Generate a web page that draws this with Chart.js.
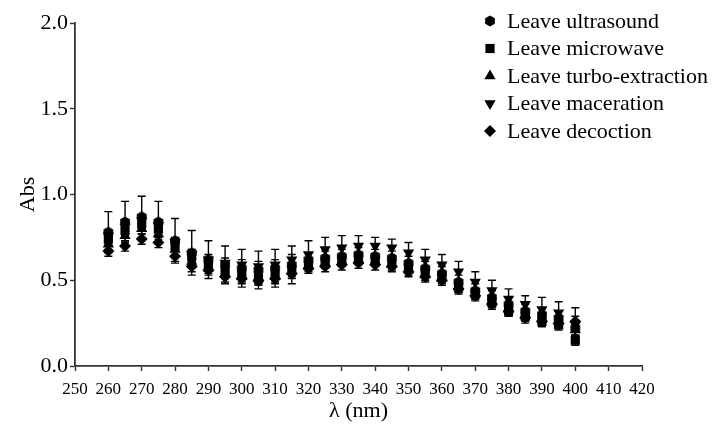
<!DOCTYPE html>
<html>
<head>
<meta charset="utf-8">
<style>
  html, body { margin: 0; padding: 0; background: #fff; }
  #wrap { width: 714px; height: 424px; }
</style>
<script src="https://cdn.jsdelivr.net/npm/chart.js"></script>
</head>
<body>
<div id="wrap"><canvas id="cvs" width="714" height="424"></canvas></div>
<script>
'use strict';

// wavelength (nm)
const wavelengths = [260, 265, 270, 275, 280, 285, 290, 295, 300, 305, 310, 315, 320, 325, 330,
    335, 340, 345, 350, 355, 360, 365, 370, 375, 380, 385, 390, 395, 400];

const seriesNames = ['Leave ultrasound', 'Leave microwave', 'Leave turbo-extraction',
    'Leave maceration', 'Leave decoction'];

// absorbance values
const ultrasound = [0.78, 0.84, 0.87, 0.84, 0.73, 0.66, 0.62, 0.59, 0.57, 0.56, 0.57, 0.59, 0.62, 0.63, 0.64,
    0.65, 0.64, 0.63, 0.60, 0.57, 0.54, 0.49, 0.44, 0.40, 0.36, 0.32, 0.30, 0.28, 0.22];
const microwave = [0.74, 0.79, 0.83, 0.80, 0.70, 0.64, 0.59, 0.55, 0.53, 0.51, 0.53, 0.56, 0.59, 0.61, 0.62,
    0.63, 0.62, 0.60, 0.57, 0.55, 0.52, 0.46, 0.42, 0.37, 0.32, 0.29, 0.26, 0.24, 0.15];
const turbo = [0.71, 0.76, 0.80, 0.77, 0.68, 0.61, 0.57, 0.54, 0.52, 0.51, 0.52, 0.55, 0.58, 0.60, 0.61,
    0.62, 0.61, 0.59, 0.56, 0.53, 0.51, 0.46, 0.42, 0.38, 0.33, 0.30, 0.28, 0.26, 0.21];
const maceration = [0.76, 0.81, 0.85, 0.82, 0.72, 0.65, 0.62, 0.60, 0.59, 0.58, 0.59, 0.62, 0.65, 0.68, 0.69,
    0.70, 0.70, 0.69, 0.66, 0.62, 0.59, 0.55, 0.49, 0.44, 0.39, 0.36, 0.33, 0.31, 0.24];
const decoction = [0.67, 0.70, 0.74, 0.72, 0.64, 0.58, 0.56, 0.52, 0.51, 0.50, 0.51, 0.54, 0.57, 0.58, 0.59,
    0.60, 0.59, 0.58, 0.55, 0.52, 0.50, 0.45, 0.41, 0.36, 0.32, 0.28, 0.26, 0.25, 0.26];

// standard deviations (error bars)
const ultrasoundErr = [0.12, 0.12, 0.12, 0.12, 0.13, 0.13, 0.11, 0.11, 0.11, 0.11, 0.11, 0.11, 0.04, 0.04, 0.04,
    0.04, 0.04, 0.04, 0.04, 0.04, 0.04, 0.04, 0.04, 0.04, 0.04, 0.04, 0.04, 0.04, 0.04];
const microwaveErr = [0.03, 0.03, 0.03, 0.03, 0.03, 0.03, 0.03, 0.03, 0.03, 0.03, 0.03, 0.03, 0.03, 0.03, 0.03,
    0.03, 0.03, 0.03, 0.03, 0.03, 0.03, 0.03, 0.03, 0.03, 0.03, 0.03, 0.03, 0.03, 0.03];
const turboErr = [0.03, 0.03, 0.03, 0.03, 0.03, 0.03, 0.03, 0.03, 0.03, 0.03, 0.03, 0.03, 0.03, 0.03, 0.03,
    0.03, 0.03, 0.03, 0.03, 0.03, 0.03, 0.03, 0.03, 0.03, 0.03, 0.03, 0.03, 0.03, 0.03];
const macerationErr = [0.03, 0.03, 0.03, 0.03, 0.03, 0.03, 0.03, 0.03, 0.03, 0.03, 0.03, 0.03, 0.08, 0.07, 0.07,
    0.06, 0.05, 0.05, 0.06, 0.06, 0.06, 0.06, 0.06, 0.06, 0.06, 0.05, 0.07, 0.065, 0.10];
const decoctionErr = [0.03, 0.03, 0.03, 0.03, 0.03, 0.03, 0.03, 0.03, 0.03, 0.03, 0.03, 0.03, 0.03, 0.03, 0.03,
    0.03, 0.03, 0.03, 0.03, 0.03, 0.03, 0.03, 0.03, 0.03, 0.03, 0.03, 0.03, 0.03, 0.03];

const yTicks = [0.0, 0.5, 1.0, 1.5, 2.0];

const SERIF = '"Liberation Serif", "Times New Roman", serif';
const INK = '#000';
const AXIS = '#333';

// hexagon marker for the ultrasound series
const hexMarker = (() => {
    const c = document.createElement('canvas');
    c.width = 12;
    c.height = 12;
    const g = c.getContext('2d');
    g.fillStyle = INK;
    g.beginPath();
    for (let k = 0; k < 6; k++) {
        const a = Math.PI / 6 + k * Math.PI / 3;
        const px = 6 + 5.6 * Math.cos(a);
        const py = 6 + 5.6 * Math.sin(a);
        if (k === 0) g.moveTo(px, py); else g.lineTo(px, py);
    }
    g.closePath();
    g.fill();
    return c;
})();

const values = [ultrasound, microwave, turbo, maceration, decoction];
const errors = [ultrasoundErr, microwaveErr, turboErr, macerationErr, decoctionErr];
const markers = [
    { pointStyle: hexMarker, radius: 5.5, rotation: 0 },
    { pointStyle: 'rect', radius: 6.5, rotation: 0 },
    { pointStyle: 'triangle', radius: 6.5, rotation: 0 },
    { pointStyle: 'triangle', radius: 6.5, rotation: 180 },
    { pointStyle: 'rectRot', radius: 6, rotation: 0 }
];

const datasets = values.map((vals, i) => ({
    label: seriesNames[i],
    data: wavelengths.map((w, j) => ({ x: w, y: vals[j] })),
    showLine: false,
    pointStyle: markers[i].pointStyle,
    pointRadius: markers[i].radius,
    pointRotation: markers[i].rotation,
    pointBackgroundColor: INK,
    pointBorderColor: INK,
    pointBorderWidth: 0,
    pointHoverRadius: markers[i].radius
}));

// vertical error bars with caps, placed through the chart scales
const errorBarPlugin = {
    id: 'errorBars',
    beforeDatasetsDraw(chart) {
        const { ctx, scales: { x, y } } = chart;
        ctx.save();
        ctx.strokeStyle = INK;
        ctx.lineWidth = 1.4;
        values.forEach((vals, i) => {
            vals.forEach((v, j) => {
                const e = errors[i][j];
                const px = x.getPixelForValue(wavelengths[j]);
                const top = y.getPixelForValue(v + e);
                const bot = y.getPixelForValue(v - e);
                ctx.beginPath();
                ctx.moveTo(px, top);
                ctx.lineTo(px, bot);
                ctx.moveTo(px - 4, top);
                ctx.lineTo(px + 4, top);
                ctx.moveTo(px - 4, bot);
                ctx.lineTo(px + 4, bot);
                ctx.stroke();
            });
        });
        ctx.restore();
    }
};

// legend drawn inside the plot, top right
const insideLegendPlugin = {
    id: 'insideLegend',
    afterDraw(chart) {
        const ctx = chart.ctx;
        ctx.save();
        ctx.font = '22px ' + SERIF;
        ctx.textBaseline = 'middle';
        ctx.textAlign = 'left';
        ctx.fillStyle = INK;
        seriesNames.forEach((name, i) => {
            const ly = 21 + i * 27.5;
            Chart.helpers.drawPoint(ctx, {
                pointStyle: markers[i].pointStyle,
                radius: markers[i].radius,
                rotation: markers[i].rotation,
                borderWidth: 0
            }, 490, ly);
            ctx.fillStyle = INK;
            ctx.fillText(name, 507, ly + 1);
        });
        ctx.restore();
    }
};

const config = {
    type: 'scatter',
    data: { datasets },
    options: {
        responsive: false,
        animation: false,
        devicePixelRatio: 1,
        layout: {
            padding: { top: 23, right: 72, bottom: 0, left: 0 }
        },
        plugins: {
            legend: { display: false },
            tooltip: { enabled: false }
        },
        scales: {
            x: {
                type: 'linear',
                min: 250,
                max: 420,
                afterFit: (scale) => { scale.height = 58; },
                afterBuildTicks: (scale) => {
                    scale.ticks = [];
                    for (let v = 250; v <= 420; v += 10) scale.ticks.push({ value: v });
                },
                grid: {
                    drawOnChartArea: false,
                    drawTicks: true,
                    tickLength: 5,
                    tickWidth: 1.4,
                    tickColor: AXIS
                },
                border: { display: true, color: AXIS, width: 1.8 },
                ticks: {
                    color: INK,
                    padding: 8,
                    maxRotation: 0,
                    autoSkip: false,
                    font: { family: SERIF, size: 17 },
                    callback: (v) => String(v)
                },
                title: {
                    display: true,
                    text: 'λ (nm)',
                    color: INK,
                    font: { family: SERIF, size: 22 },
                    padding: { top: 0, bottom: 0 }
                }
            },
            y: {
                type: 'linear',
                min: 0,
                max: 2,
                afterFit: (scale) => { scale.width = 75; },
                afterBuildTicks: (scale) => {
                    scale.ticks = yTicks.map((v) => ({ value: v }));
                },
                grid: {
                    drawOnChartArea: false,
                    drawTicks: true,
                    tickLength: 5,
                    tickWidth: 1.4,
                    tickColor: AXIS
                },
                border: { display: true, color: AXIS, width: 1.8 },
                ticks: {
                    color: INK,
                    padding: 2,
                    font: { family: SERIF, size: 22 },
                    callback: (v) => Number(v).toFixed(1)
                },
                title: {
                    display: true,
                    text: 'Abs',
                    color: INK,
                    font: { family: SERIF, size: 22 },
                    padding: { top: 15, bottom: 0 }
                }
            }
        }
    },
    plugins: [errorBarPlugin, insideLegendPlugin]
};

new Chart(document.getElementById('cvs'), config);
</script>
</body>
</html>
